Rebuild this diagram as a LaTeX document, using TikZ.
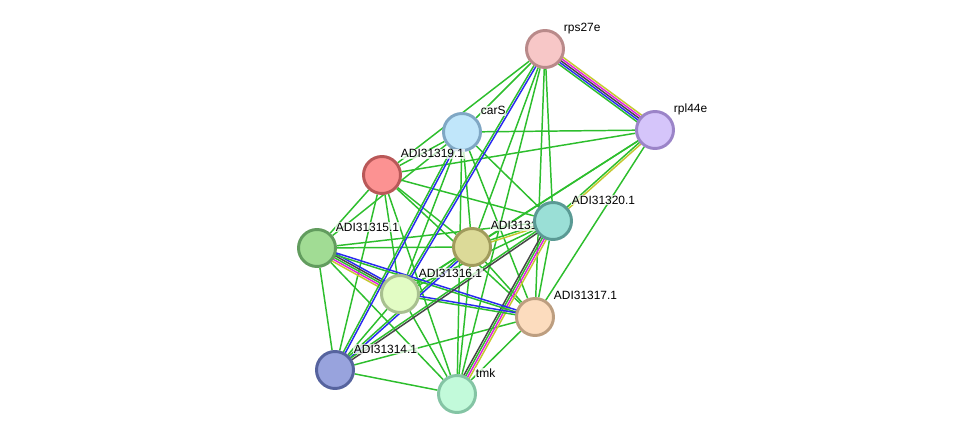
\documentclass[tikz,border=0pt]{standalone}
\usepackage{fontspec}
\setmainfont{Liberation Sans}
\usetikzlibrary{calc,backgrounds}

\definecolor{evgreen}{HTML}{2DBE2D}
\definecolor{evblue}{HTML}{2A2AF0}
\definecolor{evblack}{HTML}{474747}
\definecolor{evmagenta}{HTML}{E020E0}
\definecolor{evyellow}{HTML}{C4C82E}

\definecolor{rpsF}{HTML}{F7C7C7}\definecolor{rpsD}{HTML}{B98A8A}
\definecolor{rplF}{HTML}{D5C5FA}\definecolor{rplD}{HTML}{9B84C8}
\definecolor{carF}{HTML}{C0E6FA}\definecolor{carD}{HTML}{7FA7C4}
\definecolor{nXIXF}{HTML}{FC9292}\definecolor{nXIXD}{HTML}{B95858}
\definecolor{nXVF}{HTML}{A1DC94}\definecolor{nXVD}{HTML}{629C5E}
\definecolor{nXVIIIF}{HTML}{DCDA98}\definecolor{nXVIIID}{HTML}{A09B5C}
\definecolor{nXXF}{HTML}{9ADFD6}\definecolor{nXXD}{HTML}{5A9A94}
\definecolor{nXVIF}{HTML}{E2FCC4}\definecolor{nXVID}{HTML}{A8C090}
\definecolor{nXVIIF}{HTML}{FCDCBE}\definecolor{nXVIID}{HTML}{BD9E80}
\definecolor{nXIVF}{HTML}{98A3DD}\definecolor{nXIVD}{HTML}{56639E}
\definecolor{tmkF}{HTML}{C2FADA}\definecolor{tmkD}{HTML}{84C4A4}

\tikzset{
  prot/.style 2 args={circle,draw=#2,fill=#1,line width=2.1pt,minimum size=0.925cm,inner sep=0pt},
  lbl/.style={anchor=base west,shift={(18,-17)},inner sep=0.5pt,fill=white,fill opacity=0.75,text opacity=1,text=black,font=\fontsize{8.5}{10}\selectfont},
  ev/.style={line width=1.05pt,draw=evgreen},
}

% several evidence lines side by side
\newcommand{\bundle}[3]{%
  \foreach \col/\off in {#3}
    \draw[ev,draw=\col] ($(#1)!\off pt!90:(#2)$) -- ($(#2)!\off pt!-90:(#1)$);}

\begin{document}
\begin{tikzpicture}[x=0.025cm,y=-0.025cm]
\useasboundingbox (0,0) rectangle (976,440);

\node[prot={rpsF}{rpsD}] (rps27e) at (545,49) {};
\node[lbl] (rps27e-t) at (rps27e) {rps27e};
\node[prot={rplF}{rplD}] (rpl44e) at (655,130) {};
\node[lbl] (rpl44e-t) at (rpl44e) {rpl44e};
\node[prot={carF}{carD}] (carS) at (462,132) {};
\node[lbl] (carS-t) at (carS) {carS};
\node[prot={nXIXF}{nXIXD}] (adi19) at (382,175) {};
\node[lbl] (adi19-t) at (adi19) {ADI31319.1};
\node[prot={nXVF}{nXVD}] (adi15) at (317,248) {};
\node[lbl] (adi15-t) at (adi15) {ADI31315.1};
\node[prot={nXVIIIF}{nXVIIID}] (adi18) at (472,247) {};
\node[lbl] (adi18-t) at (adi18) {ADI31318.1};
\node[prot={nXXF}{nXXD}] (adi20) at (553,221) {};
\node[lbl] (adi20-t) at (adi20) {ADI31320.1};
\node[prot={nXVIF}{nXVID}] (adi16) at (400,294) {};
\node[lbl] (adi16-t) at (adi16) {ADI31316.1};
\node[prot={nXVIIF}{nXVIID}] (adi17) at (535,317) {};
\node[lbl] (adi17-t) at (adi17) {ADI31317.1};
\node[prot={nXIVF}{nXIVD}] (adi14) at (335,370) {};
\node[lbl] (adi14-t) at (adi14) {ADI31314.1};
\node[prot={tmkF}{tmkD}] (tmk) at (457,394) {};
\node[lbl] (tmk-t) at (tmk) {tmk};

\begin{pgfonlayer}{background}
% single green lines
\foreach \a/\b in {rps27e/carS,rps27e/adi19,rps27e/adi18,rps27e/adi20,rps27e/adi17,rps27e/tmk,
  rpl44e/carS,rpl44e/adi19,rpl44e/adi17,rpl44e/adi18,rpl44e/adi16,
  carS/adi19,carS/adi15,carS/adi16,carS/adi18,carS/tmk,carS/adi17,carS/adi20,
  adi19/adi15,adi19/adi16,adi19/adi14,adi19/adi18,adi19/adi20,adi19/adi17,adi19/tmk,
  adi15/adi18,adi15/adi20,adi15/adi14,adi15/tmk,
  adi18/adi16,adi18/adi17,adi18/tmk,
  adi20/adi16,adi20/adi17,
  adi16/adi14,adi16/tmk,
  adi17/adi14,adi17/tmk,
  adi14/tmk}
  \draw[ev] (\a) -- (\b);

\bundle{rps27e}{rpl44e}{evgreen/-2.9,evblue/-1.45,evblack/0,evmagenta/1.45,evyellow/2.9}
\bundle{adi15}{adi16}{evyellow/-2.9,evmagenta/-1.45,evgreen/0,evblack/1.45,evblue/2.9}
\bundle{adi20}{tmk}{evblack/-2.2,evgreen/-0.75,evmagenta/0.75,evyellow/2.2}
\bundle{rps27e}{adi16}{evgreen/-0.75,evblue/0.75}
\bundle{carS}{adi14}{evgreen/-0.75,evblue/0.75}
\bundle{adi15}{adi17}{evgreen/-0.75,evblue/0.75}
\bundle{adi16}{adi17}{evgreen/-0.75,evblue/0.75}
\bundle{adi18}{adi14}{evgreen/-0.75,evblue/0.75}
\bundle{adi20}{adi14}{evgreen/-0.75,evblack/0.75}
\bundle{adi20}{adi18}{evgreen/-0.75,evyellow/0.75}
\bundle{rpl44e}{adi20}{evgreen/-0.75,evyellow/0.75}
\end{pgfonlayer}
\end{tikzpicture}
\end{document}
